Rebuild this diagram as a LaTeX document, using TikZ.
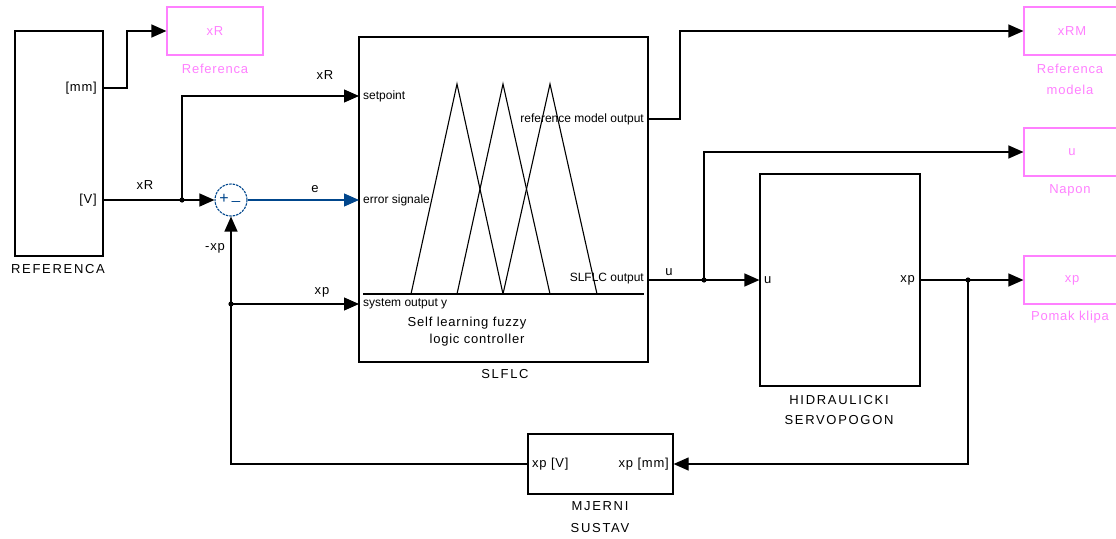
\documentclass[tikz,border=0pt]{standalone}
\usepackage{fontspec}
\setmainfont{Liberation Sans}
\newfontfamily\spaced[LetterSpace=6]{Liberation Sans}
\newfontfamily\capspaced[LetterSpace=13]{Liberation Sans}
\usetikzlibrary{arrows.meta}
\definecolor{scopepink}{RGB}{255,128,255}
\definecolor{sumblue}{RGB}{0,70,140}
\tikzset{
  blk/.style={draw, line width=1.2pt, inner sep=0, rectangle},
  scopebox/.style={draw=scopepink, line width=1.2pt, rectangle, inner sep=0,
    minimum width=96, minimum height=48, text=scopepink, font=\fontsize{13}{15}\spaced},
  wire/.style={line width=1.2pt},
  arr/.style={wire, -{Triangle[length=15pt,width=13pt]}},
  lbl/.style={font=\fontsize{13}{15}\spaced, inner sep=0},
  caplbl/.style={font=\fontsize{13}{15}\capspaced, inner sep=0},
  plbl/.style={font=\fontsize{12}{14}\selectfont, inner sep=0},
  pinklbl/.style={lbl, text=scopepink}
}
\begin{document}
\begin{tikzpicture}[x=1pt,y=-1pt]
\useasboundingbox (0,0) rectangle (1116,538);
% blocks
\node[blk, minimum width=88, minimum height=225] (ref) at (59,143.5) {};
\node[blk, minimum width=289, minimum height=325] (sl) at (503.5,199.5) {};
\node[blk, minimum width=160, minimum height=212] (hyd) at (840,280) {};
\node[blk, minimum width=145, minimum height=60] (mj) at (600.5,464) {};
\node[scopebox] (scR) at (215,31) {xR};
\node[scopebox] (scRM) at (1072,31) {xRM};
\node[scopebox] (scU) at (1072,152) {u};
\node[scopebox] (scXP) at (1072,280) {xp};
\node[circle, draw=sumblue, line width=1.1pt, dash pattern=on 2.5pt off 1pt, minimum size=32, inner sep=0] (sum) at (231,200) {};
\node[text=sumblue, inner sep=0, font=\fontsize{16}{16}\selectfont] (plus) at (224,199) {+};
\node[text=sumblue, inner sep=0, font=\fontsize{15}{16}\selectfont] (minus) at (236,201) {\_};

% port coordinates
\coordinate (refmm) at (103,88);
\coordinate (refV) at (103,200);
\coordinate (slsp) at (359,96);
\coordinate (slerr) at (359,200);
\coordinate (slsys) at (359,304);
\coordinate (slref) at (648,119);
\coordinate (slout) at (648,280);
\coordinate (b1) at (182,200);
\coordinate (b2) at (231,304);
\coordinate (b3) at (704,280);
\coordinate (b4) at (968,280);

% connectors
\draw[arr] (refmm) -- ++(24,0) |- (scR.west);
\draw[arr] (refV) -- (sum.west);
\draw[arr] (b1) |- (slsp);
\draw[arr, draw=sumblue, fill=sumblue] (sum.east) -- (slerr);
\draw[arr] (mj.west) -| (sum.south);
\draw[arr] (b2) -- (slsys);
\draw[arr] (slref) -- ++(32,0) |- (scRM.west);
\draw[arr] (slout) -- (hyd.west);
\draw[arr] (b3) |- (scU.west);
\draw[arr] (hyd.east) -- (scXP.west);
\draw[arr] (b4) |- (mj.east);
\foreach \p in {b1,b2,b3,b4} \fill (\p) circle (2.6);

% SLFLC icon
\draw[line width=1.1pt] (363,294) -- (644,294);
\draw[line width=1.1pt] (411,294) -- (457,84) -- (503,294);
\draw[line width=1.1pt] (457,294) -- (503,84) -- (550,294);
\draw[line width=1.1pt] (503,294) -- (550,84) -- (597,294);

% labels
\node[lbl, anchor=east] (lmm) at (97,88) {[mm]};
\node[lbl, anchor=east] (lV) at (97,200) {[V]};
\node[caplbl] (lref) at (58,269) {REFERENCA};
\node[pinklbl] (lscR) at (215,69) {Referenca};
\node[lbl] (lxR1) at (145,185) {xR};
\node[lbl] (lxR2) at (325,75) {xR};
\node[lbl] (le) at (315,189) {e};
\node[lbl] (lmxp) at (215,248) {-xp};
\node[lbl] (lxp) at (322,292) {xp};
\node[lbl] (lu) at (669,272) {u};
\node[plbl, anchor=west] (psp) at (363,96) {setpoint};
\node[plbl, anchor=west] (perr) at (363,200) {error signale};
\node[plbl, anchor=west] (psys) at (363,304) {system output y};
\node[plbl, anchor=east] (pref) at (644,119) {reference model output};
\node[plbl, anchor=east] (pout) at (644,279) {SLFLC output};
\node[lbl] (t1) at (467,323) {Self learning fuzzy};
\node[lbl] (t2) at (477,340) {logic controller};
\node[caplbl] (lsl) at (505,374) {SLFLC};
\node[lbl, anchor=west] (hu) at (764,280) {u};
\node[lbl, anchor=east] (hxp) at (915,280) {xp};
\node[caplbl] (lhyd1) at (839,400) {HIDRAULICKI};
\node[caplbl] (lhyd2) at (839,420) {SERVOPOGON};
\node[lbl, anchor=west] (mxpv) at (532,464) {xp [V]};
\node[lbl, anchor=east] (mxpmm) at (669,464) {xp [mm]};
\node[caplbl] (lmj1) at (600,506) {MJERNI};
\node[caplbl] (lmj2) at (600,528) {SUSTAV};
\node[pinklbl] (lrm1) at (1070,69) {Referenca};
\node[pinklbl] (lrm2) at (1070,90) {modela};
\node[pinklbl] (lnap) at (1070,190) {Napon};
\node[pinklbl] (lpom) at (1070,317) {Pomak klipa};
\end{tikzpicture}
\end{document}
